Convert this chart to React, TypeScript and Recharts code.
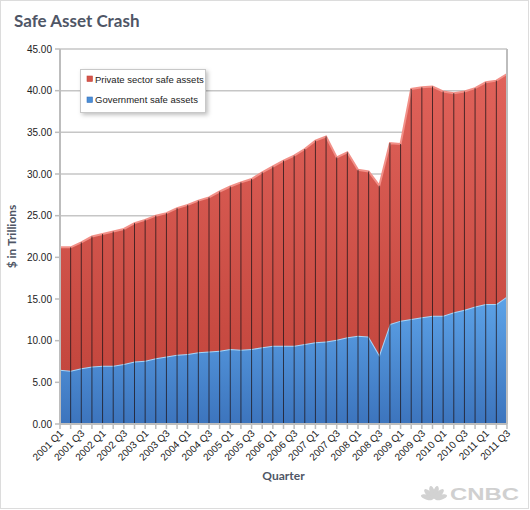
import React from "react";
import { AreaChart, Area, XAxis, YAxis, CartesianGrid, ReferenceLine } from "recharts";

const quarters = [
  "2001 Q1", "2001 Q2", "2001 Q3", "2001 Q4",
  "2002 Q1", "2002 Q2", "2002 Q3", "2002 Q4",
  "2003 Q1", "2003 Q2", "2003 Q3", "2003 Q4",
  "2004 Q1", "2004 Q2", "2004 Q3", "2004 Q4",
  "2005 Q1", "2005 Q2", "2005 Q3", "2005 Q4",
  "2006 Q1", "2006 Q2", "2006 Q3", "2006 Q4",
  "2007 Q1", "2007 Q2", "2007 Q3", "2007 Q4",
  "2008 Q1", "2008 Q2", "2008 Q3", "2008 Q4",
  "2009 Q1", "2009 Q2", "2009 Q3", "2009 Q4",
  "2010 Q1", "2010 Q2", "2010 Q3", "2010 Q4",
  "2011 Q1", "2011 Q2", "2011 Q3",
];

// $ trillions
const government = [
  6.5, 6.4, 6.7, 6.9, 7.0, 7.0, 7.2, 7.5, 7.6, 7.9, 8.1,
  8.3, 8.4, 8.6, 8.7, 8.8, 9.0, 8.9, 9.0, 9.2, 9.4, 9.4,
  9.4, 9.6, 9.8, 9.9, 10.1, 10.4, 10.6, 10.5, 8.3, 12.0, 12.4,
  12.6, 12.8, 13.0, 13.0, 13.4, 13.7, 14.1, 14.4, 14.4, 15.3,
];

const privateSector = [
  14.7, 14.8, 15.1, 15.6, 15.8, 16.1, 16.2, 16.6, 16.9, 17.1, 17.2,
  17.6, 17.9, 18.2, 18.5, 19.1, 19.5, 20.1, 20.4, 21.0, 21.5, 22.2,
  22.8, 23.4, 24.2, 24.6, 21.9, 22.2, 19.9, 19.8, 20.3, 21.7, 21.2,
  27.6, 27.6, 27.5, 26.9, 26.3, 26.2, 26.2, 26.6, 26.8, 26.7,
];

const yTicks = [0, 5, 10, 15, 20, 25, 30, 35, 40, 45];

const series = [
  { key: "government", name: "Government safe assets", color: "#4a8ed6", top: "#5da3e8", bottom: "#3c74bd", edge: "#a6d6f8" },
  { key: "private", name: "Private sector safe assets", color: "#d5554b", top: "#e0625a", bottom: "#c4473e", edge: "#f29088" },
];

const data = quarters.map((q, i) => ({
  quarter: q,
  government: government[i],
  private: privateSector[i],
  total: government[i] + privateSector[i],
}));

const FONT = "'Liberation Sans', Arial, sans-serif";
const TITLE_FONT = "Lato, 'Liberation Sans', sans-serif";
const AXIS_GRAY = "#bdbdbd";
const TITLE_COLOR = "#4f5666";

const QuarterTick = (props: any) => {
  const { x, y, payload, index } = props;
  if (index % 2 !== 0) return <g />;
  const tx = x + 4;
  const ty = y + 3;
  return (
    <text
      x={tx}
      y={ty}
      transform={`rotate(-45, ${tx}, ${ty})`}
      textAnchor="end"
      fontSize={10}
      fontFamily={FONT}
      fill="#222"
    >
      {payload.value}
    </text>
  );
};

function Overlay() {
  const legendOrder = [series[1], series[0]];
  return (
    <svg width={530} height={510} style={{ position: "absolute", left: 0, top: 0, pointerEvents: "none" }}>
      <defs>
        <filter id="legendShadow" x="-20%" y="-30%" width="150%" height="180%">
          <feDropShadow dx="2" dy="2" stdDeviation="2" floodColor="#000" floodOpacity="0.25" />
        </filter>
      </defs>
      <text x={14} y={27} fontFamily={TITLE_FONT} fontWeight="bold" fontSize={17} fill={TITLE_COLOR}>
        Safe Asset Crash
      </text>
      <rect x={80.5} y={69.5} width={125} height={43} fill="#fff" stroke="#c8c8c8" filter="url(#legendShadow)" />
      {legendOrder.map((s, i) => (
        <g key={s.key}>
          <rect x={87} y={76 + i * 21} width={5.5} height={5.5} fill={s.color} stroke={s.bottom} strokeWidth={0.6} />
          <text x={95} y={82.5 + i * 20.5} fontFamily={FONT} fontSize={9.5} fill="#222">
            {s.name}
          </text>
        </g>
      ))}
      <g fill="#d2d2d2">
        {[-75, -45, -15, 15, 45, 75].map((a) => (
          <ellipse key={a} cx={434} cy={492} rx={2.6} ry={6.5} transform={`rotate(${a}, 434, 499)`} />
        ))}
      </g>
      <text x={450} y={500} fontFamily={FONT} fontWeight="bold" fontSize={16} fill="#d0d0d0" textLength={69} lengthAdjust="spacingAndGlyphs">
        CNBC
      </text>
    </svg>
  );
}

export default function App() {
  return (
    <div style={{ position: "absolute", left: 0, top: 0, width: 530, height: 510, background: "#fff" }}>
      <div style={{ position: "absolute", left: 0, top: 0, width: 527, height: 507, border: "1px solid #dcdcdc" }} />
      <AreaChart width={530} height={510} data={data} margin={{ top: 49, right: 23, bottom: 16, left: 0 }}>
        <defs>
          {series.map((s) => (
            <linearGradient key={s.key} id={`grad-${s.key}`} x1="0" y1="0" x2="0" y2="1">
              <stop offset="0%" stopColor={s.top} />
              <stop offset="100%" stopColor={s.bottom} />
            </linearGradient>
          ))}
        </defs>
        <CartesianGrid vertical={false} stroke="#c6c6c6" strokeWidth={1.5} />
        <XAxis
          dataKey="quarter"
          interval={0}
          height={70}
          tick={<QuarterTick />}
          tickSize={5}
          tickLine={{ stroke: AXIS_GRAY, strokeWidth: 1.5 }}
          axisLine={{ stroke: AXIS_GRAY, strokeWidth: 2 }}
          label={{ value: "Quarter", position: "insideBottom", offset: 14, style: { fontFamily: TITLE_FONT, fontWeight: "bold", fontSize: 12, fill: TITLE_COLOR } }}
        />
        <YAxis
          domain={[0, 45]}
          ticks={yTicks}
          width={60}
          tickFormatter={(v: number) => v.toFixed(2)}
          tickSize={5}
          tickMargin={3}
          tick={{ fontSize: 10, fontFamily: FONT, fill: "#222" }}
          tickLine={{ stroke: AXIS_GRAY, strokeWidth: 1.5 }}
          axisLine={{ stroke: AXIS_GRAY, strokeWidth: 2 }}
          label={{ value: "$ in Trillions", angle: -90, position: "insideLeft", offset: 12, style: { textAnchor: "middle", fontFamily: TITLE_FONT, fontWeight: "bold", fontSize: 12, fill: TITLE_COLOR } }}
        />
        {series.map((s) => (
          <Area
            key={s.key}
            type="linear"
            dataKey={s.key}
            name={s.name}
            stackId="1"
            stroke={s.edge}
            strokeWidth={2}
            fill={`url(#grad-${s.key})`}
            fillOpacity={1}
            isAnimationActive={false}
          />
        ))}
        {data.map((d) => (
          <ReferenceLine
            key={d.quarter}
            segment={[{ x: d.quarter, y: 0 }, { x: d.quarter, y: d.total }]}
            stroke="#1e1418"
            strokeOpacity={0.75}
            strokeWidth={1}
          />
        ))}
        <ReferenceLine x={quarters[quarters.length - 1]} stroke={AXIS_GRAY} strokeWidth={2} />
      </AreaChart>
      <Overlay />
    </div>
  );
}
